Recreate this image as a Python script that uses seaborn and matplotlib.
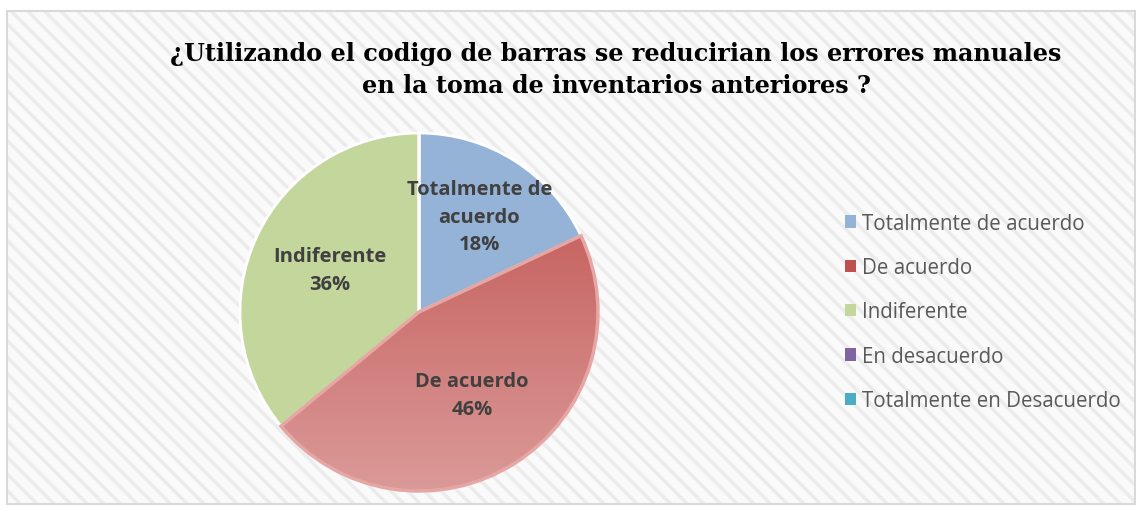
import numpy as np
import matplotlib
matplotlib.use("Agg")
import matplotlib.pyplot as plt
import matplotlib.patches as mpatches
from matplotlib.colors import LinearSegmentedColormap
import seaborn as sns

sns.set_theme(style="white")
plt.rcParams["hatch.linewidth"] = 2.6

# Data
categories = ["Totalmente de acuerdo", "De acuerdo", "Indiferente",
              "En desacuerdo", "Totalmente en Desacuerdo"]
values = [18, 46, 36, 0, 0]
slice_labels = ["Totalmente de\nacuerdo\n18%", "De acuerdo\n46%", "Indiferente\n36%", "", ""]
colors = ["#95B3D7", "#C0504D", "#C3D69B", "#8064A2", "#4BACC6"]
title = "¿Utilizando el codigo de barras se reducirian los errores manuales\nen la toma de inventarios anteriores ?"

fig = plt.figure(figsize=(11.41, 5.10), dpi=100)
W, H = 1141, 510

# chart area background: diagonal stripes + border
bg = mpatches.Rectangle((7 / W, 1 - 505 / H), 1128 / W, 493 / H, transform=fig.transFigure,
                        facecolor="#FAFAFA", edgecolor="#ECECEC", hatch="\\\\", linewidth=0, zorder=-2)
fig.patches.append(bg)
border = mpatches.Rectangle((7 / W, 1 - 505 / H), 1128 / W, 493 / H, transform=fig.transFigure,
                            facecolor="none", edgecolor="#D9D9D9", linewidth=1.5, zorder=-1)
fig.patches.append(border)

# pie axes
cx, cy, r = 419, 313, 179
ax = fig.add_axes([(cx - r) / W, 1 - (cy + r) / H, 2 * r / W, 2 * r / H])
ax.set_facecolor("none")
wedges, _ = ax.pie(values, colors=colors, startangle=90, counterclock=False,
                   wedgeprops=dict(edgecolor="white", linewidth=2))

# gradient fill for the "De acuerdo" slice
grad = LinearSegmentedColormap.from_list("red_grad", ["#C0504D", "#DA9A98"])
img = ax.imshow(np.linspace(0, 1, 256).reshape(-1, 1), cmap=grad, extent=(-1, 1, -1, 1),
                aspect="auto", origin="upper", zorder=1.5)
img.set_clip_path(wedges[1])
wedges[1].set_zorder(1.6)
wedges[1].set_facecolor("none")
wedges[1].set_edgecolor("#E6A6A4")
wedges[1].set_linewidth(2.5)
ax.set_xlim(-1, 1)
ax.set_ylim(-1, 1)
ax.set_aspect("equal")
ax.axis("off")

# slice labels
for w, lab in zip(wedges, slice_labels):
    if not lab:
        continue
    ang = np.deg2rad((w.theta1 + w.theta2) / 2)
    d = 0.63 if lab.count("\n") == 2 else 0.55
    ax.text(d * np.cos(ang), d * np.sin(ang), lab, ha="center", va="center",
            fontsize=14.5, fontweight="bold", color="#404040", family="Open Sans",
            linespacing=1.5, zorder=3)

# title
fig.text(616 / W, 1 - 70 / H, title, ha="center", va="center", fontsize=17.2,
         fontweight="bold", family="DejaVu Serif", color="black", linespacing=1.45)

# legend
handles = [mpatches.Patch(facecolor=c, edgecolor="none") for c in colors]
leg = fig.legend(handles, categories, loc="center left", bbox_to_anchor=(826 / W, 1 - 313 / H),
                 frameon=False, handlelength=0.55, handleheight=0.55, handletextpad=0.3,
                 labelspacing=1.14, prop=dict(family="Open Sans", size=14.8))
for t in leg.get_texts():
    t.set_color("#595959")

fig.savefig("out.png", dpi=100)
